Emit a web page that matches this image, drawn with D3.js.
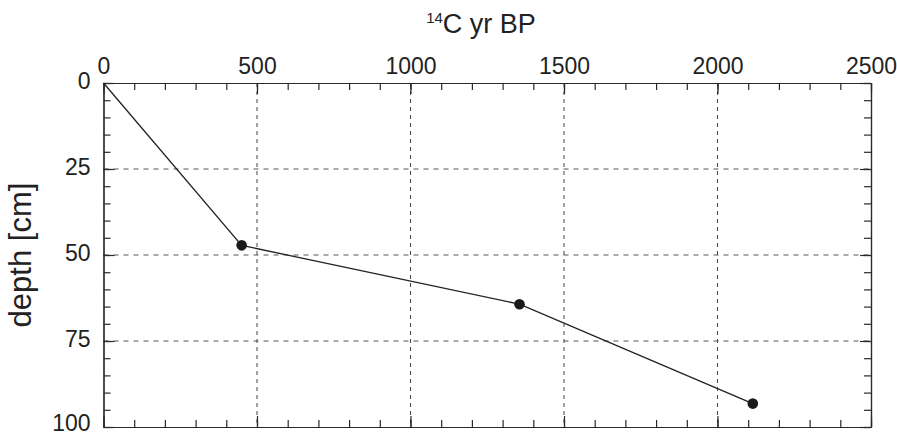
<!DOCTYPE html>
<html><head><meta charset="utf-8">
<script src="https://cdn.jsdelivr.net/npm/d3@7"></script>
<style>
html,body{margin:0;padding:0;background:#fff;}
svg{display:block;font-family:"Liberation Sans",Arial,sans-serif;}
</style></head>
<body>
<svg id="chart" width="897" height="436"></svg>
<script>
// Data
const ages = [0, 450, 1355, 2115];           // 14C yr BP
const depths = [0, 47.2, 64.3, 93.2];        // depth [cm]
const datedAges = [450, 1355, 2115];
const datedDepths = [47.2, 64.3, 93.2];
const xTicks = [0, 500, 1000, 1500, 2000, 2500];
const yTicks = [0, 25, 50, 75, 100];
const xLabel = "C yr BP";
const xLabelSup = "14";
const yLabel = "depth [cm]";

const svg = d3.select("#chart");
const L = 103.5, R = 871, T = 83, B = 427;
const x = d3.scaleLinear().domain([0, 2500]).range([L, R]);
const y = d3.scaleLinear().domain([0, 100]).range([T, B]);
const ink = "#2a2a2a";
const fmt = d3.format("d");

// grid lines
const grid = svg.append("g");
grid.selectAll("line.vx").data(xTicks.slice(1, -1)).join("line")
  .attr("x1", d => x(d)).attr("x2", d => x(d)).attr("y1", T).attr("y2", B)
  .attr("stroke", "#444").attr("stroke-width", 1).attr("stroke-dasharray", "4,4");
grid.selectAll("line.hy").data(yTicks.slice(1, -1)).join("line")
  .attr("x1", L).attr("x2", R).attr("y1", d => y(d)).attr("y2", d => y(d))
  .attr("stroke", "#555").attr("stroke-width", 1).attr("stroke-dasharray", "5,5");

// axes
function styleAxis(g) {
  g.selectAll("path.domain").attr("stroke", ink).attr("stroke-width", 1.2);
  g.selectAll(".tick line").attr("stroke", ink).attr("stroke-width", 1.2);
  g.selectAll("text").attr("fill", "#222").style("font-size", "23px")
    .style("font-family", '"Liberation Sans",Arial,sans-serif');
}
const xMinor = x.ticks(25);
const yMinor = y.ticks(20);

// top axis with labels
const gTop = svg.append("g").attr("transform", `translate(0,${T})`)
  .call(d3.axisTop(x).tickValues(xTicks).tickFormat(fmt).tickSizeInner(-11).tickSizeOuter(0).tickPadding(9));
styleAxis(gTop);
svg.append("g").attr("transform", `translate(0,${T})`)
  .call(d3.axisTop(x).tickValues(xMinor).tickSizeInner(-7).tickSizeOuter(0).tickFormat(""))
  .call(styleAxis);
// bottom axis
svg.append("g").attr("transform", `translate(0,${B})`)
  .call(d3.axisBottom(x).tickValues(xTicks).tickSizeInner(-11).tickSizeOuter(0).tickFormat(""))
  .call(styleAxis);
svg.append("g").attr("transform", `translate(0,${B})`)
  .call(d3.axisBottom(x).tickValues(xMinor).tickSizeInner(-7).tickSizeOuter(0).tickFormat(""))
  .call(styleAxis);
// left axis with labels
const gLeft = svg.append("g").attr("transform", `translate(${L},0)`)
  .call(d3.axisLeft(y).tickValues(yTicks).tickFormat(fmt).tickSizeInner(-11).tickSizeOuter(0).tickPadding(13));
styleAxis(gLeft);
gLeft.selectAll(".tick text").attr("dy", (d, i, n) => i === n.length - 1 ? "0.13em" : "0.25em");
svg.append("g").attr("transform", `translate(${L},0)`)
  .call(d3.axisLeft(y).tickValues(yMinor).tickSizeInner(-7).tickSizeOuter(0).tickFormat(""))
  .call(styleAxis);
// right axis
svg.append("g").attr("transform", `translate(${R},0)`)
  .call(d3.axisRight(y).tickValues(yTicks).tickSizeInner(-11).tickSizeOuter(0).tickFormat(""))
  .call(styleAxis);
svg.append("g").attr("transform", `translate(${R},0)`)
  .call(d3.axisRight(y).tickValues(yMinor).tickSizeInner(-7).tickSizeOuter(0).tickFormat(""))
  .call(styleAxis);

// age-depth line
const pts = ages.map((a, i) => [a, depths[i]]);
svg.append("path").datum(pts)
  .attr("fill", "none").attr("stroke", "#222").attr("stroke-width", 1.3)
  .attr("d", d3.line().x(d => x(d[0])).y(d => y(d[1])));

// dated points
svg.selectAll("circle.pt").data(datedAges).join("circle")
  .attr("cx", d => x(d)).attr("cy", (d, i) => y(datedDepths[i])).attr("r", 5.3)
  .attr("fill", "#1a1a1a");

// axis titles
const title = svg.append("text").attr("x", 481).attr("y", 33).attr("text-anchor", "middle")
  .attr("fill", "#222").style("font-size", "27px");
title.append("tspan").text(xLabelSup).style("font-size", "15px").attr("dy", "-10");
title.append("tspan").text(xLabel).attr("dy", "10");

svg.append("text").attr("transform", `translate(31,${(T + B) / 2}) rotate(-90)`)
  .attr("text-anchor", "middle").attr("fill", "#222").style("font-size", "31px")
  .text(yLabel);
</script>
</body></html>
